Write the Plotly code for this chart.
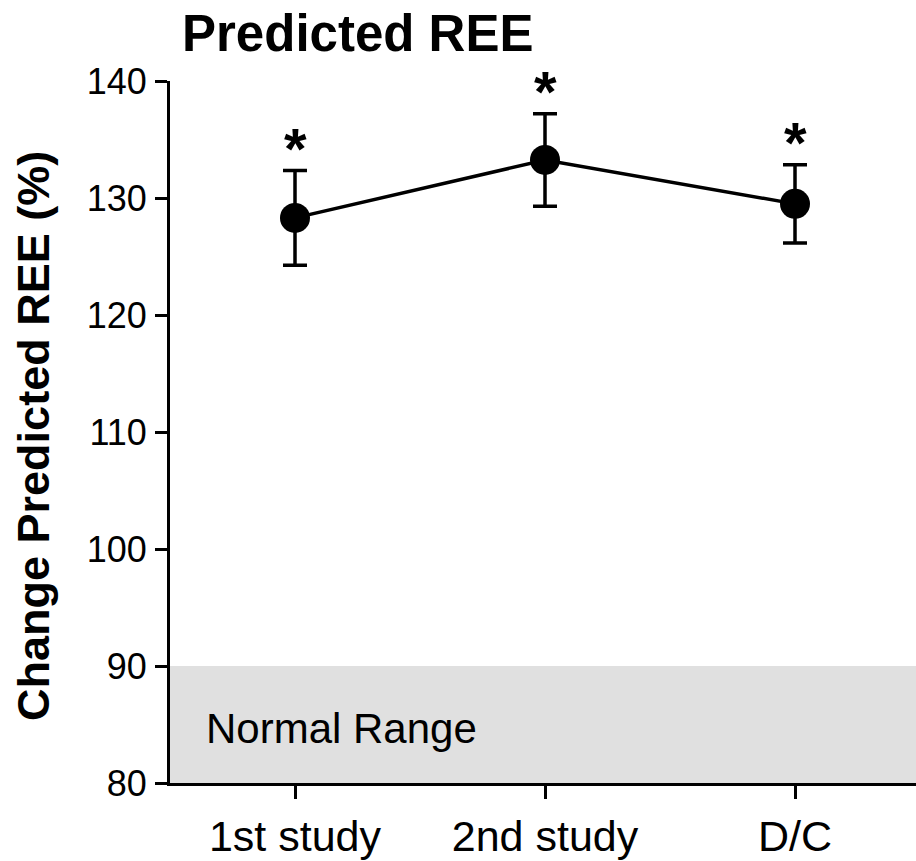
import plotly.graph_objects as go

categories = ["1st study", "2nd study", "D/C"]
values = [128.3, 133.25, 129.5]
errors = [4.05, 3.95, 3.35]
y_ticks = [80, 90, 100, 110, 120, 130, 140]
normal_low = 80
normal_high = 90
title_text = "Predicted REE"
y_title = "Change Predicted REE (%)"
band_label = "Normal Range"
sig_mark = "*"

FONT = "Liberation Sans, Arial, sans-serif"
xs = list(range(len(categories)))

fig = go.Figure()

fig.add_shape(type="rect", xref="paper", yref="y", x0=0, x1=1,
              y0=normal_low, y1=normal_high, fillcolor="#e0e0e0",
              line=dict(width=0), layer="below")

fig.add_trace(go.Scatter(
    x=xs, y=values, mode="lines+markers",
    line=dict(color="black", width=3.5),
    marker=dict(color="black", size=30, line=dict(width=0)),
    error_y=dict(type="data", array=errors, visible=True,
                 color="black", thickness=3.5, width=12),
    showlegend=False, hoverinfo="skip",
))

for x, v, e in zip(xs, values, errors):
    fig.add_annotation(x=x, y=v + e, xref="x", yref="y",
                       text=f"<b>{sig_mark}</b>",
                       showarrow=False, yanchor="middle", yshift=22,
                       font=dict(family=FONT, size=58, color="black"))

fig.add_annotation(x=0.045, y=(normal_low + normal_high) / 2 - 0.3,
                   xref="paper", yref="y", text=band_label, showarrow=False,
                   xanchor="left", yanchor="middle",
                   font=dict(family=FONT, size=42, color="black"))

fig.add_annotation(x=-0.184, y=0.494, xref="paper", yref="paper",
                   text=f"<b>{y_title}</b>", textangle=-90, showarrow=False,
                   xanchor="center", yanchor="middle",
                   font=dict(family=FONT, size=45, color="black"))

fig.update_layout(
    width=916, height=861,
    margin=dict(l=170, r=0, t=81, b=78),
    paper_bgcolor="white", plot_bgcolor="white",
    title=dict(text=f"<b>{title_text}</b>", x=182 / 916, xanchor="left",
               xref="container", y=1 - 33 / 861, yanchor="middle",
               yref="container",
               font=dict(family=FONT, size=51, color="black")),
    xaxis=dict(range=[-0.5, 2.484], tickvals=xs, ticktext=categories,
               showline=True, linecolor="black", linewidth=3,
               ticks="outside", ticklen=13, tickwidth=3, tickcolor="black",
               showgrid=False, zeroline=False,
               tickfont=dict(family=FONT, size=43, color="black")),
    yaxis=dict(range=[80, 140], tickvals=y_ticks,
               showline=True, linecolor="black", linewidth=3,
               ticks="outside", ticklen=12, tickwidth=3, tickcolor="black",
               ticklabelstandoff=1,
               showgrid=False, zeroline=False,
               tickfont=dict(family=FONT, size=36, color="black")),
)

fig.write_html(
    "out.html",
    config={"displayModeBar": False},
    post_script="document.body.style.margin='0';document.body.style.overflow='hidden';",
)
